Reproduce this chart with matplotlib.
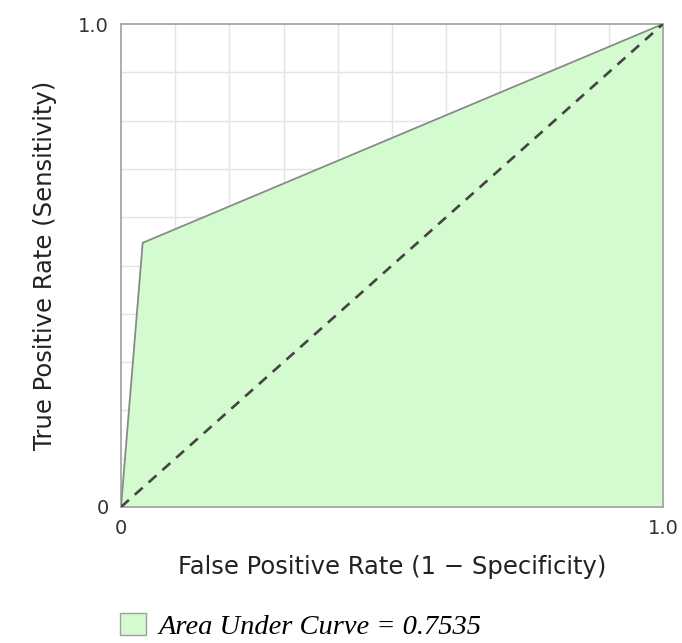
import matplotlib
matplotlib.use('Agg')
import matplotlib.pyplot as plt
from matplotlib.patches import Patch

# ROC points
fpr = [0.0, 0.04, 1.0]
tpr = [0.0, 0.547, 1.0]
chance = [0.0, 1.0]
auc_label = 'Area Under Curve = 0.7535'

fig = plt.figure(figsize=(6.82, 6.43), dpi=100)
ax = fig.add_axes([121 / 682, 1 - 507 / 643, 542 / 682, 483 / 643])

ax.set_xlim(0, 1)
ax.set_ylim(0, 1)

# grid under everything
ax.set_axisbelow(True)
ax.set_xticks([i / 10 for i in range(11)], minor=True)
ax.set_yticks([i / 10 for i in range(11)], minor=True)
ax.grid(True, which='minor', color='#e4e4e4', linewidth=1.0)
ax.tick_params(which='minor', length=0)

ax.fill_between(fpr, tpr, 0, color='#d4fad0', zorder=2)
ax.plot(fpr, tpr, color='#8a8a8a', linewidth=1.3, zorder=3)
ax.plot(chance, chance, color='#444444', linestyle=(0, (4, 3)), linewidth=1.9, zorder=4)

ax.set_xticks([0, 1])
ax.set_xticklabels(['0', '1.0'])
ax.set_yticks([0, 1])
ax.set_yticklabels(['0', '1.0'])
ax.tick_params(which='major', length=0, labelsize=14, colors='#333333', pad=9)

for s in ax.spines.values():
    s.set_color('#a0a0a0')
    s.set_linewidth(1.2)

ax.set_xlabel('False Positive Rate (1 \u2212 Specificity)', fontsize=17.5, color='#222222', labelpad=12)
ax.set_ylabel('True Positive Rate (Sensitivity)', fontsize=17.5, color='#222222', labelpad=15)

handle = Patch(facecolor='#d4fad0', edgecolor='#a0a0a0', linewidth=1.0)
fig.legend([handle], [auc_label], loc='lower left', bbox_to_anchor=(120 / 682, 3 / 643),
           frameon=False, borderpad=0, borderaxespad=0,
           handlelength=0.9, handleheight=0.85, handletextpad=0.45,
           prop={'family': 'Liberation Serif', 'style': 'italic', 'size': 20.5})

fig.savefig('out.png', dpi=100)
